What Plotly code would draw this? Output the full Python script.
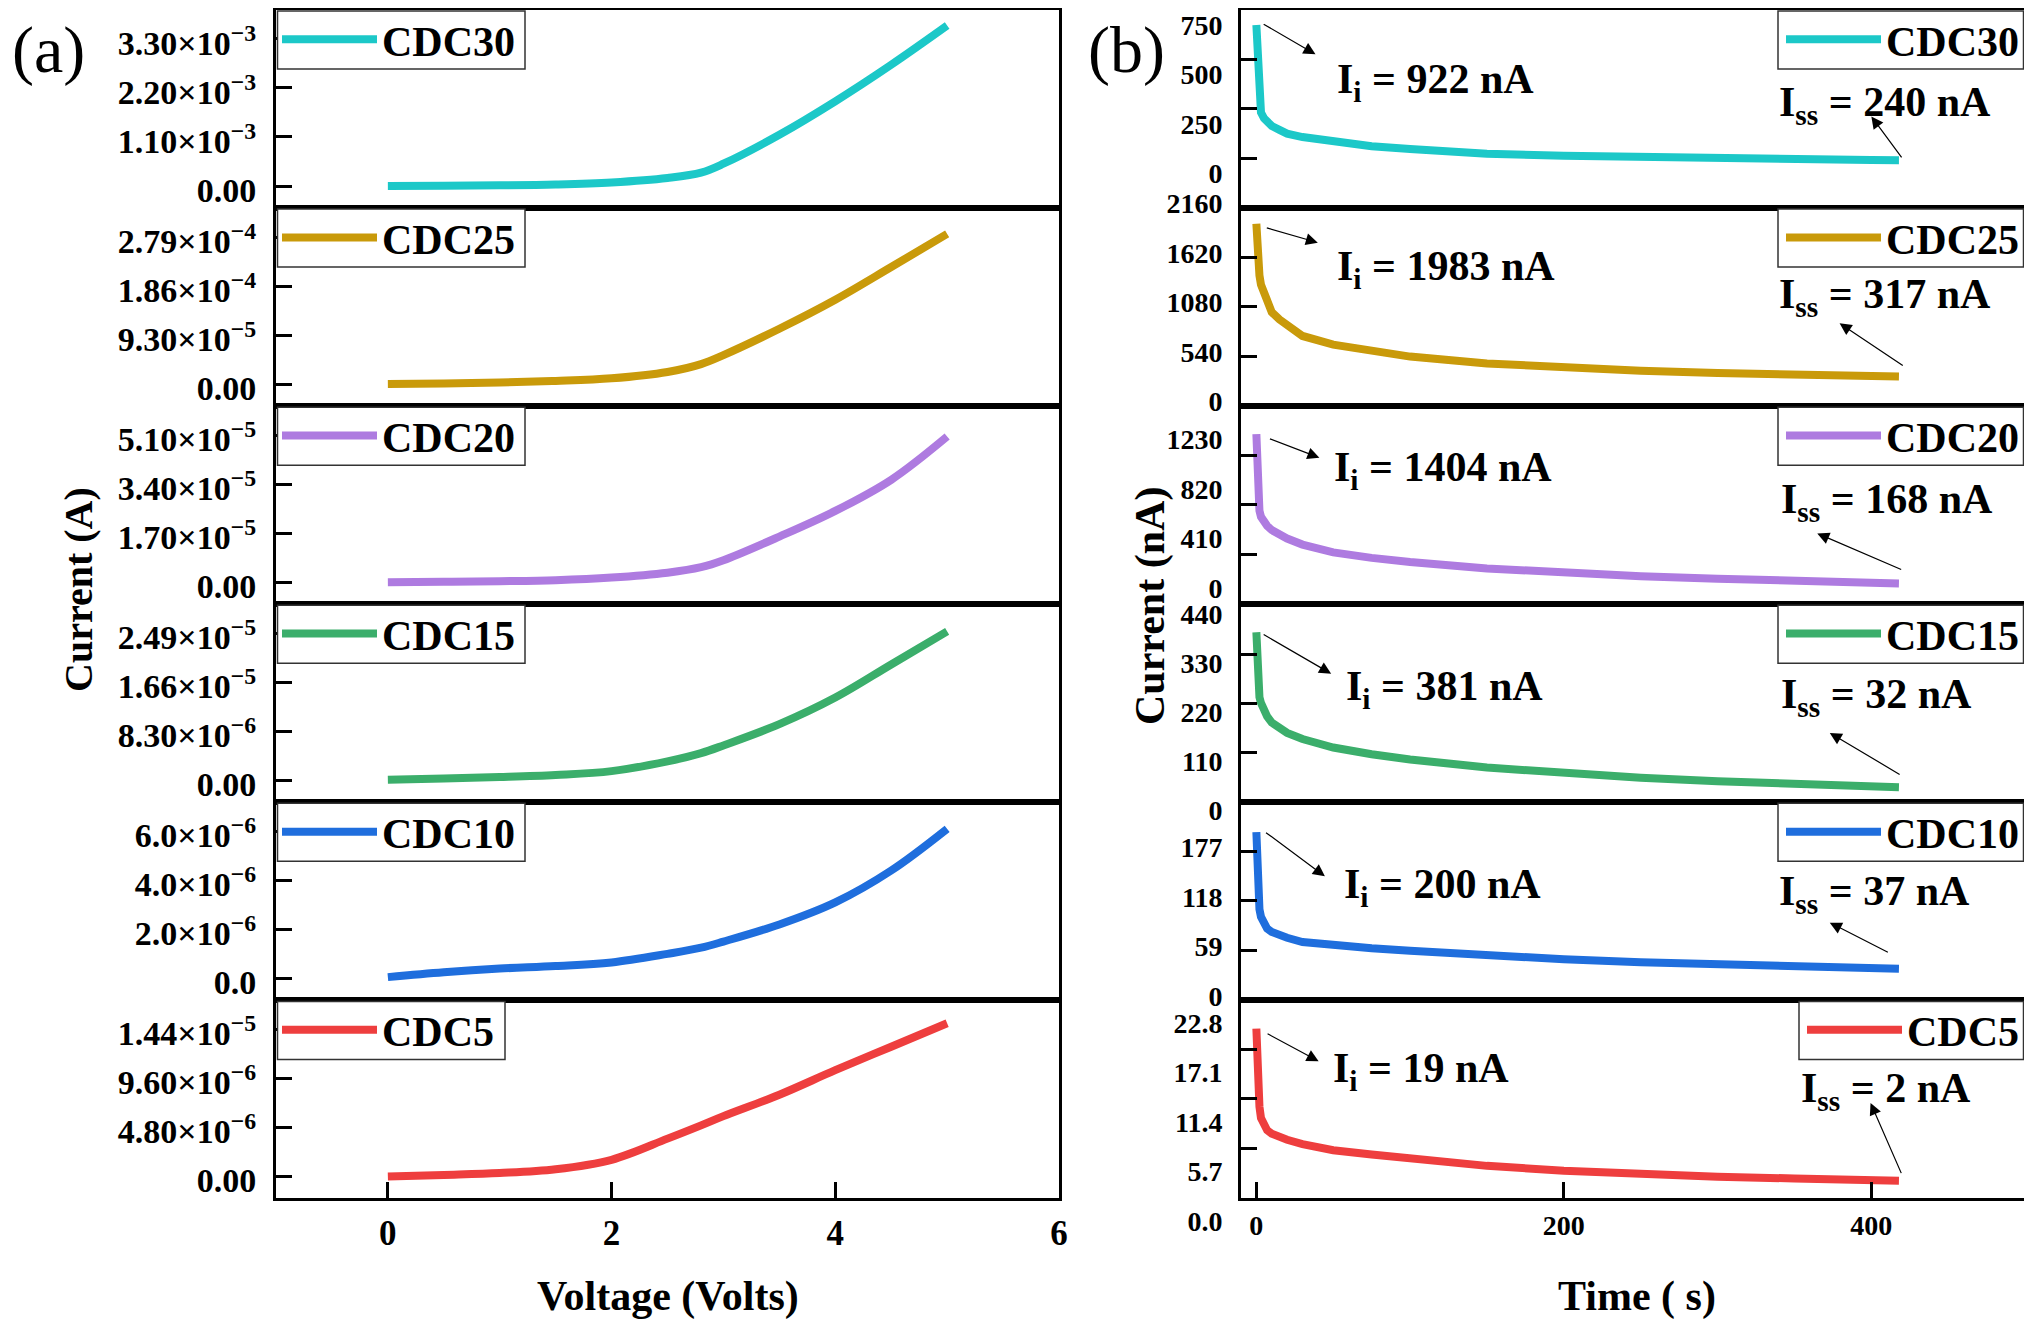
import plotly.graph_objects as go

#%% Datos
names = ["CDC30", "CDC25", "CDC20", "CDC15", "CDC10", "CDC5"]
colors = ["#1CC8C8", "#C99A0A", "#AE7BE0", "#3BAE6B", "#1F6EDD", "#EE3E3E"]

# (a) curvas I-V
voltage = [0, 0.5, 1, 1.5, 2, 2.5, 2.8, 3, 3.5, 4, 4.5, 5]
iv_cdc30 = [0, 5e-6, 1.5e-5, 3.5e-5, 8e-5, 1.8e-4, 3.0e-4, 5.0e-4, 1.15e-3, 1.9e-3, 2.72e-3, 3.6e-3]
iv_cdc25 = [0, 1e-6, 3e-6, 6e-6, 1.1e-5, 2.3e-5, 3.8e-5, 5.5e-5, 1.05e-4, 1.6e-4, 2.22e-4, 2.85e-4]
iv_cdc20 = [0, 1.5e-7, 3.5e-7, 7e-7, 1.6e-6, 3.3e-6, 5.2e-6, 7.6e-6, 1.58e-5, 2.47e-5, 3.55e-5, 5.05e-5]
iv_cdc15 = [1e-7, 3e-7, 5.5e-7, 9e-7, 1.55e-6, 3.2e-6, 4.6e-6, 5.9e-6, 9.5e-6, 1.4e-5, 1.96e-5, 2.52e-5]
iv_cdc10 = [5e-8, 2.5e-7, 4e-7, 5e-7, 6.5e-7, 1.0e-6, 1.25e-6, 1.5e-6, 2.2e-6, 3.1e-6, 4.4e-6, 6.1e-6]
iv_cdc5 = [0, 1.5e-7, 3.3e-7, 7e-7, 1.63e-6, 3.7e-6, 5.0e-6, 5.9e-6, 8.0e-6, 1.04e-5, 1.27e-5, 1.5e-5]
iv_all = [iv_cdc30, iv_cdc25, iv_cdc20, iv_cdc15, iv_cdc10, iv_cdc5]

iv_steps = [1.1e-3, 9.3e-5, 1.7e-5, 8.3e-6, 2.0e-6, 4.8e-6]
iv_ticktext = [
    ["0.00", "1.10×10<sup>−3</sup>", "2.20×10<sup>−3</sup>", "3.30×10<sup>−3</sup>"],
    ["0.00", "9.30×10<sup>−5</sup>", "1.86×10<sup>−4</sup>", "2.79×10<sup>−4</sup>"],
    ["0.00", "1.70×10<sup>−5</sup>", "3.40×10<sup>−5</sup>", "5.10×10<sup>−5</sup>"],
    ["0.00", "8.30×10<sup>−6</sup>", "1.66×10<sup>−5</sup>", "2.49×10<sup>−5</sup>"],
    ["0.0", "2.0×10<sup>−6</sup>", "4.0×10<sup>−6</sup>", "6.0×10<sup>−6</sup>"],
    ["0.00", "4.80×10<sup>−6</sup>", "9.60×10<sup>−6</sup>", "1.44×10<sup>−5</sup>"],
]
v_ticks = [0, 2, 4, 6]

# (b) curvas I-t
time_s = [0, 0.5, 1, 2, 3, 5, 7, 10, 15, 20, 30, 50, 75, 100, 150, 200, 250, 300, 350, 400, 418]
it_cdc30 = [922, 830, 700, 520, 480, 450, 432, 412, 392, 373, 356, 332, 310, 296, 272, 262, 254, 247, 242, 240, 239]
it_cdc25 = [1983, 1700, 1580, 1420, 1320, 1220, 1130, 1020, 940, 880, 760, 665, 595, 535, 460, 410, 380, 355, 335, 322, 317]
it_cdc20 = [1404, 1200, 900, 770, 720, 675, 645, 610, 570, 540, 490, 425, 380, 345, 292, 255, 228, 207, 190, 176, 168]
it_cdc15 = [381, 320, 262, 235, 222, 204, 192, 178, 165, 155, 141, 122, 107, 95, 77, 64, 54, 46, 40, 35, 33]
it_cdc10 = [200, 165, 128, 108, 99, 90, 85, 81, 77, 74, 69, 65, 61.5, 58.5, 53, 48.5, 45, 42, 40, 38, 37]
it_cdc5 = [19.5, 16, 13, 10.5, 9.2, 8.3, 7.8, 7.4, 7.0, 6.7, 6.2, 5.5, 5.0, 4.6, 3.7, 3.15, 2.75, 2.45, 2.25, 2.05, 2.0]
it_all = [it_cdc30, it_cdc25, it_cdc20, it_cdc15, it_cdc10, it_cdc5]

it_top = [1000, 2160, 1640, 445, 236, 22.8]
it_tickvals = [
    [0, 250, 500, 750],
    [0, 540, 1080, 1620, 2160],
    [0, 410, 820, 1230],
    [0, 110, 220, 330, 440],
    [0, 59, 118, 177],
    [0, 5.7, 11.4, 17.1, 22.8],
]
it_ticktext = [
    ["0", "250", "500", "750"],
    ["0", "540", "1080", "1620", "2160"],
    ["0", "410", "820", "1230"],
    ["0", "110", "220", "330", "440"],
    ["0", "59", "118", "177"],
    ["0.0", "5.7", "11.4", "17.1", "22.8"],
]
t_ticks = [0, 200, 400]

ii_values = [922, 1983, 1404, 381, 200, 19]
iss_values = [240, 317, 168, 32, 37, 2]

#%% Geometria (pixeles de la figura; la pagina la desplaza 8 px)
W, H = 2032, 1323
TOP, BOT = 1.5, 1190
PH = (BOT - TOP) / 6
LX0, LX1 = 268, 1051
RX0, RX1 = 1233, 2017
FONT = "Liberation Serif, Times New Roman, serif"

# desplazamiento de etiquetas del eje y (positivo = hacia abajo)
iv_labelshift = 4
it_labelshift = [-34, -4, -16, 8, -4, 23]

# cajas de leyenda (ancho en px), alto comun
box_w_left = [249, 249, 249, 249, 249, 229]
box_w_right = [247, 247, 247, 247, 247, 226]
BOX_H = 58

# posiciones de anotaciones (fraccion del panel)
ii_text = [(0.12, 0.635), (0.12, 0.69), (0.116, 0.675), (0.131, 0.571), (0.129, 0.568), (0.115, 0.643)]
ii_tail = [(0.027, 0.93), (0.031, 0.90), (0.035, 0.835), (0.027, 0.849), (0.030, 0.85), (0.032, 0.833)]
ii_head = [(0.095, 0.774), (0.098, 0.823), (0.10, 0.737), (0.115, 0.647), (0.107, 0.624), (0.099, 0.69)]
iss_text = [(0.684, 0.52), (0.684, 0.55), (0.686, 0.515), (0.686, 0.53), (0.684, 0.535), (0.712, 0.54)]
iss_tail = [(0.844, 0.246), (0.846, 0.198), (0.844, 0.17), (0.842, 0.134), (0.827, 0.237), (0.843, 0.118)]
iss_head = [(0.804, 0.46), (0.7635, 0.416), (0.735, 0.355), (0.751, 0.348), (0.751, 0.39), (0.803, 0.48)]

fig = go.Figure()
layout = dict(
    width=W, height=H,
    margin=dict(l=0, r=0, t=0, b=0, autoexpand=False),
    plot_bgcolor="white", paper_bgcolor="white",
    font=dict(family=FONT, color="black"),
    showlegend=True,
)
annotations = []
shapes = []

axis_common = dict(
    showline=True, mirror=True, linecolor="black", linewidth=3,
    showgrid=False, zeroline=False, ticklen=16, tickwidth=3, tickcolor="black",
    automargin=False,
)


def legend_box(x0_px, x1_px, top_px):
    # marco blanco de la leyenda, dentro del borde del panel
    return dict(
        type="rect", xref="paper", yref="paper", layer="above",
        x0=x0_px / W, x1=x1_px / W,
        y0=1 - (top_px + BOX_H) / H, y1=1 - top_px / H,
        fillcolor="white", line=dict(color="#333333", width=1.5),
    )


for i in range(6):
    top_px = TOP + i * PH
    y0 = 1 - (top_px + PH) / H
    y1 = 1 - top_px / H
    y_leg = 1 - (top_px - 4) / H
    bottom = i == 5
    for side in range(2):
        n = i + 1 + 6 * side
        sfx = "" if n == 1 else str(n)
        if side == 0:
            fig.add_trace(go.Scatter(
                x=voltage, y=iv_all[i], mode="lines", name=names[i],
                line=dict(color=colors[i], width=8, shape="spline"),
                xaxis="x" + sfx, yaxis="y" + sfx, legend="legend" + sfx,
            ))
            step = iv_steps[i]
            layout["xaxis" + sfx] = dict(
                axis_common, domain=[LX0 / W, LX1 / W], anchor="y" + sfx,
                range=[-1, 6], tickvals=v_ticks,
                ticks="inside" if bottom else "", showticklabels=bottom,
                tickfont=dict(size=35, weight="bold"), ticklabelstandoff=2,
            )
            layout["yaxis" + sfx] = dict(
                axis_common, domain=[y0, y1], anchor="x" + sfx,
                range=[-0.44 * step, 3.6 * step],
                tickvals=[k * step for k in range(4)], ticktext=iv_ticktext[i],
                ticks="inside", tickfont=dict(size=34, weight="bold"),
                ticklabelshift=iv_labelshift, ticklabelstandoff=10,
            )
            layout["legend" + sfx] = dict(
                x=(LX0 + 1) / W, y=y_leg, xanchor="left", yanchor="top",
            )
            shapes.append(legend_box(LX0 + 1.5, LX0 + box_w_left[i], top_px + 1.5))
        else:
            fig.add_trace(go.Scatter(
                x=time_s, y=it_all[i], mode="lines", name=names[i],
                line=dict(color=colors[i], width=8),
                xaxis="x" + sfx, yaxis="y" + sfx, legend="legend" + sfx,
            ))
            layout["xaxis" + sfx] = dict(
                axis_common, domain=[RX0 / W, RX1 / W], anchor="y" + sfx,
                range=[-10, 500], tickvals=t_ticks,
                ticks="inside" if bottom else "", showticklabels=bottom,
                tickfont=dict(size=28, weight="bold"), ticklabelstandoff=0,
            )
            layout["yaxis" + sfx] = dict(
                axis_common, domain=[y0, y1], anchor="x" + sfx,
                range=[0, it_top[i]],
                tickvals=it_tickvals[i], ticktext=it_ticktext[i],
                ticks="inside", tickfont=dict(size=28, weight="bold"),
                ticklabelshift=it_labelshift[i], ticklabelstandoff=10,
            )
            layout["legend" + sfx] = dict(
                x=(RX1 - 1) / W, y=y_leg, xanchor="right", yanchor="top",
            )
            shapes.append(legend_box(RX1 - box_w_right[i], RX1 - 1.5, top_px + 1.5))
            xr, yr = "x" + sfx + " domain", "y" + sfx + " domain"
            # Ii con flecha desde el pico
            annotations.append(dict(
                x=ii_text[i][0], y=ii_text[i][1], xref=xr, yref=yr,
                text=f"I<sub>i</sub> = {ii_values[i]} nA", showarrow=False,
                xanchor="left", yanchor="middle", font=dict(size=42, weight="bold"),
            ))
            annotations.append(dict(
                x=ii_head[i][0], y=ii_head[i][1], ax=ii_tail[i][0], ay=ii_tail[i][1],
                xref=xr, yref=yr, axref=xr, ayref=yr, text="", showarrow=True,
                arrowhead=2, arrowsize=2, arrowwidth=1.2, arrowcolor="black",
                standoff=0, startstandoff=0,
            ))
            # Iss con flecha desde el final
            annotations.append(dict(
                x=iss_text[i][0], y=iss_text[i][1], xref=xr, yref=yr,
                text=f"I<sub>ss</sub> = {iss_values[i]} nA", showarrow=False,
                xanchor="left", yanchor="middle", font=dict(size=42, weight="bold"),
            ))
            annotations.append(dict(
                x=iss_head[i][0], y=iss_head[i][1], ax=iss_tail[i][0], ay=iss_tail[i][1],
                xref=xr, yref=yr, axref=xr, ayref=yr, text="", showarrow=True,
                arrowhead=2, arrowsize=2, arrowwidth=1.2, arrowcolor="black",
                standoff=0, startstandoff=0,
            ))
        # la leyenda va transparente sobre su caja
        layout["legend" + sfx].update(
            bgcolor="rgba(0,0,0,0)", borderwidth=0,
            font=dict(size=42, weight="bold"), itemwidth=95, tracegroupgap=0,
        )

# titulos de ejes y etiquetas de panel
title_font = dict(size=42, weight="bold")
annotations += [
    dict(x=(LX0 + LX1) / 2 / W, y=1 - 1288 / H, text="Voltage (Volts)", font=title_font),
    dict(x=1629 / W, y=1 - 1288 / H, text="Time ( s)", font=title_font),
    dict(x=70 / W, y=1 - 582 / H, textangle=-90, text="Current (A)",
         font=dict(size=40, weight="bold")),
    dict(x=1142 / W, y=1 - 598 / H, textangle=-90, text="Current (nA)", font=title_font),
    dict(x=40 / W, y=1 - 42 / H, text="(a)", font=dict(size=66)),
    dict(x=1118 / W, y=1 - 42 / H, text="(b)", font=dict(size=66)),
]
for a in annotations[-6:]:
    a.update(xref="paper", yref="paper", showarrow=False, xanchor="center", yanchor="middle")
layout["annotations"] = annotations
layout["shapes"] = shapes

fig.update_layout(**layout)

fig.write_html("out.html")
